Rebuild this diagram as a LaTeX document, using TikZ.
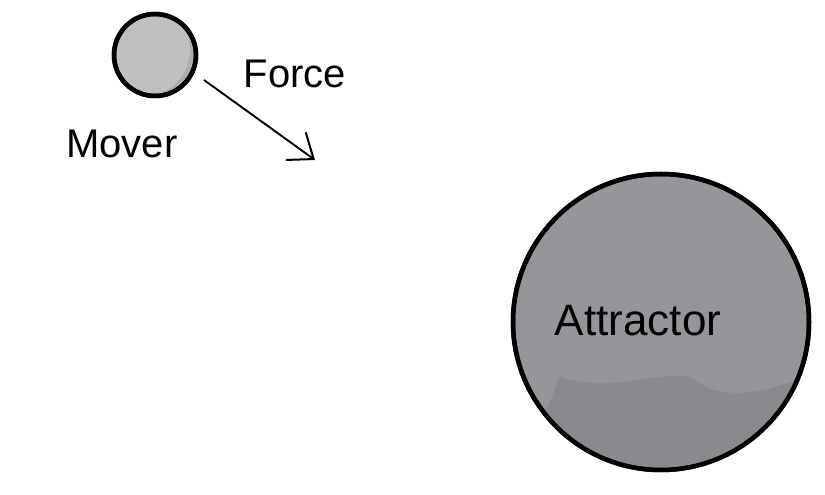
\documentclass[tikz,border=0pt]{standalone}
\usepackage{fontspec}
\setmainfont{Liberation Sans}
\usetikzlibrary{arrows.meta}
\definecolor{moverfill}{RGB}{192,192,194}
\definecolor{moverdark}{RGB}{172,172,175}
\definecolor{attrfill}{RGB}{148,150,153}
\definecolor{attrdark}{RGB}{132,134,137}
\tikzset{
  body/.style={circle, draw=black, line width=4.5pt, inner sep=0pt},
  label/.style={font=\fontsize{40}{42}\selectfont, text=black},
  biglabel/.style={font=\fontsize{44}{46}\selectfont, text=black},
  forcearrow/.style={line width=1.9pt, -{Straight Barb[length=22pt,width=34pt,line width=2pt]}}
}
\begin{document}
\begin{tikzpicture}[x=1pt,y=1pt]
\useasboundingbox (0,0) rectangle (825,495);
% mover
\node[body, fill=moverfill, minimum size=82pt] (mover) at (155,440) {};
\begin{scope}
  \clip (155,440) circle (38pt);
  \fill[moverdark] (183,472) .. controls (200,440) and (185,405) .. (148,398)
     -- (200,398) -- (200,472) -- cycle;
\end{scope}
\draw[line width=4.5pt] (mover) circle (41pt);
% attractor
\node[body, fill=attrfill, minimum size=296pt] (attr) at (661,173) {};
\begin{scope}
  \clip (661,173) circle (146pt);
  \fill[attrdark, opacity=0.7] (560,118) .. controls (620,100) and (670,130) .. (695,115)
     .. controls (720,95) and (760,100) .. (810,120) -- (810,20) -- (520,20) -- cycle;
\end{scope}
\draw[line width=4.5pt] (attr) circle (148pt);
% labels
\node[label] (moverlabel) at (122,351) {Mover};
\node[label] (forcelabel) at (295,421) {Force};
\node[biglabel] (attrlabel) at (638,174) {Attractor};
% force arrow
\coordinate (fstart) at (204,415);
\coordinate (fend) at (315,335);
\draw[forcearrow] (fstart) -- (fend);
\end{tikzpicture}
\end{document}
